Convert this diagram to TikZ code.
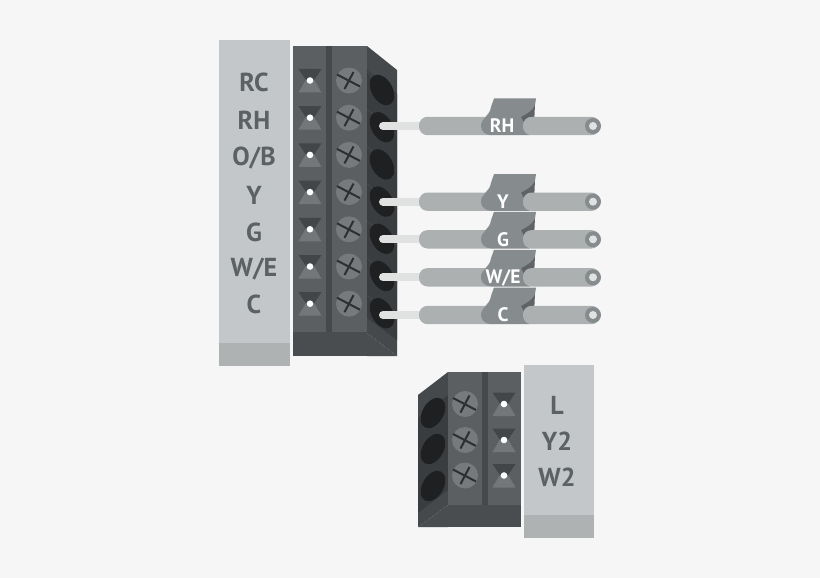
\documentclass[tikz,border=0pt]{standalone}
\usepackage{fontspec}
\setmainfont{PT Sans}
\definecolor{bgc}{HTML}{F6F6F6}
\definecolor{plate}{HTML}{C3C7C9}
\definecolor{plateb}{HTML}{AEB2B3}
\definecolor{ink}{HTML}{5C6163}
\definecolor{front}{HTML}{5B5F61}
\definecolor{strip}{HTML}{46494B}
\definecolor{base}{HTML}{4A4D4F}
\definecolor{side}{HTML}{3A3D3F}
\definecolor{sidel}{HTML}{46494B}
\definecolor{hole}{HTML}{1E2022}
\definecolor{screw}{HTML}{767A7D}
\definecolor{cross}{HTML}{2D2F31}
\definecolor{htop}{HTML}{434648}
\definecolor{hbot}{HTML}{73777A}
\definecolor{sheath}{HTML}{ACB0B1}
\definecolor{flag}{HTML}{868B8D}
\definecolor{flagd}{HTML}{5F6365}
\definecolor{stub}{HTML}{E0E2E2}
\tikzset{
  x=1pt,y=-1pt,
  lab/.style={font=\fontsize{26}{26}\selectfont\bfseries,text=ink,inner sep=0pt,anchor=center},
  wlab/.style={font=\fontsize{19.5}{19.5}\selectfont\bfseries,text=white,inner sep=0pt,anchor=center},
}
\newcommand{\hglass}[2]{%
  \fill[htop] (#1-11.5,#2-11.5) -- (#1+11.5,#2-11.5) -- (#1+4.5,#2-1) -- (#1-4.5,#2-1) -- cycle;
  \fill[hbot] (#1-11.5,#2+12) -- (#1+11.5,#2+12) -- (#1+4.5,#2) -- (#1-4.5,#2) -- cycle;
  \fill[white] (#1,#2) circle (3.3);
}
\newcommand{\myscrew}[2]{%
  \fill[screw] (#1,#2) circle (13);
  \draw[cross,line width=2pt] (#1-12,#2-6) -- (#1+11,#2+6);
  \draw[cross,line width=2pt] (#1+4.5,#2-8.5) -- (#1-4.5,#2+8.5);
}
\newcommand{\mywire}[1]{%
  \draw[stub,line width=8pt,line cap=round] (383,#1) -- (425,#1);
  \fill[flagd] (520,#1-10) -- (535,#1-22) -- (534,#1) -- (520,#1) -- cycle;
  \fill[sheath,rounded corners=8.5pt] (419,#1-9.2) rectangle (500,#1+9.2);
  \fill[flag] (494,#1-27.5) -- (536,#1-27.5) -- (535,#1-21)
     .. controls (533,#1-16) and (527,#1-12) .. (521,#1-9.2)
     -- (530,#1+9.2)
     -- (492,#1+9.2) .. controls (485,#1+9.2) and (481,#1+5) .. (481,#1)
     .. controls (481,#1-8) and (490,#1-10) .. (491,#1-19) -- cycle;
  \fill[sheath,rounded corners=8.5pt] (523,#1-9.2) rectangle (600,#1+9.2);
  \fill[flag] (593,#1) circle (8);
  \fill[stub] (593,#1) circle (4);
}
\begin{document}
\begin{tikzpicture}
\useasboundingbox (0,0) rectangle (820,578);
\fill[bgc] (0,0) rectangle (820,578);
% upper plate
\fill[plate] (219,40) rectangle (289.5,366);
\fill[plateb] (219,343) rectangle (289.5,366);
% upper block
\fill[base] (293,46) rectangle (367,356);
\fill[sidel] (367,46) -- (397,70) -- (397,356) -- (367,333) -- cycle;
\fill[base] (367,333) -- (397,356) -- (367,356) -- cycle;
\fill[side] (367,70) -- (397,94) -- (397,340) -- (367,318) -- cycle;
\foreach \k [evaluate=\k as \ya using 72+37.2*\k, evaluate=\k as \yb using 97+37.2*\k, evaluate=\k as \yc using 90+37.2*\k] in {0,...,6} {
  \draw[sidel,line width=0.8pt] (367,\ya) -- (397,\yb);
  \fill[hole,rotate around={30:(382,\yc)}] (382,\yc) ellipse (10.5 and 16.5);
}
\fill[front] (293,46) rectangle (326,332);
\fill[strip] (326,46) rectangle (332,332);
\fill[front] (332,46) rectangle (367,332);
\foreach \k [evaluate=\k as \yd using 80.5+37.2*\k] in {0,...,6} {
  \hglass{310}{\yd}
  \myscrew{349}{\yd}
}
\node[lab] (rc) at (254,82) {RC};
\node[lab] (rh) at (254,120) {RH};
\node[lab] (ob) at (254,158) {O/B};
\node[lab] (y) at (254,195) {Y};
\node[lab] (g) at (254,232) {G};
\node[lab] (we) at (254,269) {W/E};
\node[lab] (c) at (254,304) {C};
% wires
\mywire{126}\node[wlab] (wrh) at (502,126) {RH};
\mywire{201.7}\node[wlab] (wy) at (503,202) {Y};
\mywire{239.3}\node[wlab] (wg) at (503,240) {G};
\mywire{277.3}\node[wlab] (wwe) at (503,278) {W/E};
\mywire{315}\node[wlab] (wc) at (503,315) {C};
% lower plate
\fill[plate] (524,365) rectangle (594,538);
\fill[plateb] (524,515) rectangle (594,538);
% lower block
\fill[base] (448,372) rectangle (521,527);
\fill[sidel] (448,372) -- (418,395) -- (418,527) -- (448,505) -- cycle;
\fill[base] (448,505) -- (418,527) -- (448,527) -- cycle;
\fill[side] (448,395) -- (418,418) -- (418,513) -- (448,490) -- cycle;
\foreach \y in {413,449,486} {
  \fill[hole,rotate around={-30:(433,\y)}] (433,\y) ellipse (10.5 and 16.5);
}
\fill[front] (448,372) rectangle (482,505);
\fill[strip] (482,372) rectangle (488,505);
\fill[front] (488,372) rectangle (521,505);
\foreach \y in {404,440,475.5} {
  \myscrew{465}{\y}
  \hglass{504}{\y}
}
\node[lab] (l) at (557,405) {L};
\node[lab] (y2) at (557,441) {Y2};
\node[lab] (w2) at (557,477) {W2};
\end{tikzpicture}
\end{document}
